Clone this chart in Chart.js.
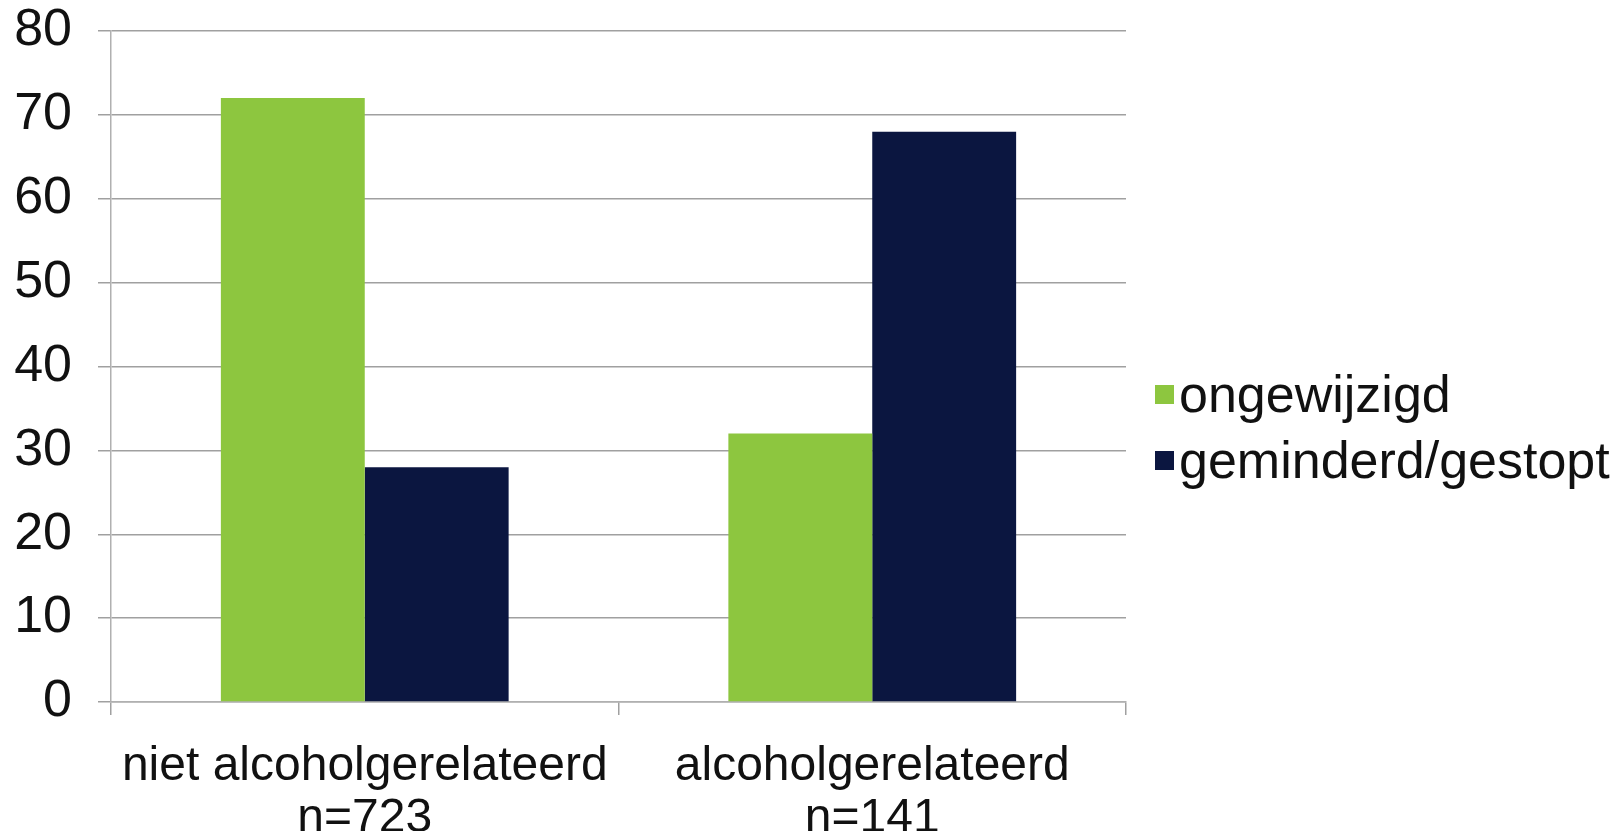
<!DOCTYPE html>
<html>
<head>
<meta charset="utf-8">
<script src="https://cdn.jsdelivr.net/npm/chart.js@4/dist/chart.umd.min.js"></script>
<style>
  html, body { margin: 0; padding: 0; background: #fff; }
  #wrap { position: relative; width: 1617px; height: 831px; overflow: hidden; }
  #legend { position: absolute; left: 1155px; top: 361px; font-family: "Liberation Sans", Arial, sans-serif; font-size: 52px; color: #111; }
  .leg-row { display: flex; align-items: center; height: 66px; white-space: nowrap; }
  .leg-box { width: 19px; height: 19px; margin-right: 5px; }
</style>
</head>
<body>
<div id="wrap">
  <canvas id="chart" width="1617" height="831"></canvas>
  <div id="legend"></div>
</div>
<script>
const categories = [
  ['niet alcoholgerelateerd', 'n=723'],
  ['alcoholgerelateerd', 'n=141']
];
const seriesNames = ['ongewijzigd', 'geminderd/gestopt'];
const ongewijzigd = [72, 32];
const geminderd = [28, 68];
const colors = ['#8dc63f', '#0b1640'];

const font = "'Liberation Sans', Arial, sans-serif";

const ctx = document.getElementById('chart').getContext('2d');
const chart = new Chart(ctx, {
  type: 'bar',
  data: {
    labels: categories,
    datasets: [
      { label: seriesNames[0], data: ongewijzigd, backgroundColor: colors[0] },
      { label: seriesNames[1], data: geminderd, backgroundColor: colors[1] }
    ]
  },
  options: {
    responsive: false,
    animation: false,
    layout: { padding: { top: 31, right: 491, left: 0, bottom: 0 } },
    datasets: { bar: { barPercentage: 1, categoryPercentage: 0.567 } },
    scales: {
      x: {
        grid: { drawOnChartArea: false, drawTicks: true, tickLength: 13, color: '#a0a0a0', lineWidth: 1.5 },
        border: { color: '#b0b0b0', width: 1.5 },
        ticks: { color: '#111', font: { family: font, size: 48, lineHeight: 1.1 }, padding: 25, maxRotation: 0 },
        afterFit: s => { s.height = 129; s.paddingLeft = 0; s.paddingRight = 0; }
      },
      y: {
        min: 0, max: 80,
        ticks: { stepSize: 10, color: '#111', font: { family: font, size: 52 }, padding: 26 },
        grid: { color: '#a0a0a0', lineWidth: 1.5, tickLength: 13 },
        border: { color: '#b0b0b0', width: 1.5 },
        afterFit: s => { s.width = 111; s.paddingTop = 0; s.paddingBottom = 0; }
      }
    },
    plugins: {
      legend: { display: false },
      tooltip: { enabled: false }
    }
  }
});

const legend = document.getElementById('legend');
chart.data.datasets.forEach(ds => {
  const row = document.createElement('div');
  row.className = 'leg-row';
  row.innerHTML = `<span class="leg-box" style="background:${ds.backgroundColor}"></span><span>${ds.label}</span>`;
  legend.appendChild(row);
});
</script>
</body>
</html>
